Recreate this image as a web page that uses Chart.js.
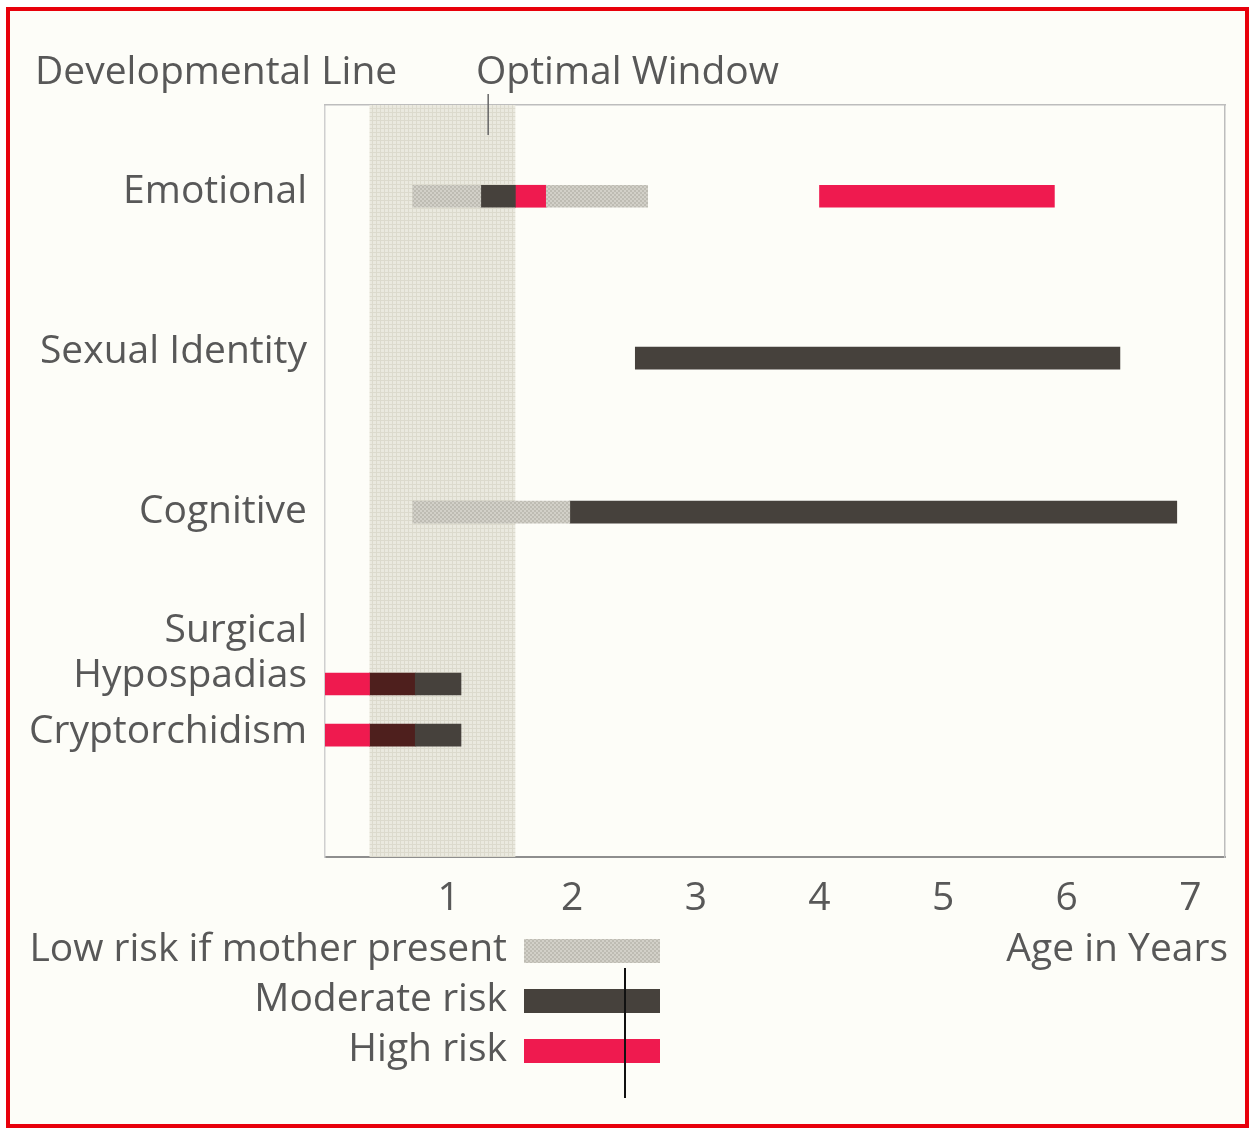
<!DOCTYPE html>
<html>
<head>
<meta charset="utf-8">
<script src="https://cdn.jsdelivr.net/npm/chart.js@4.4.1/dist/chart.umd.min.js"></script>
<style>
  html, body { margin: 0; padding: 0; background: #fff; }
  #wrap { position: relative; width: 1250px; height: 1129px; }
  #frame { position: absolute; left: 6px; top: 7px; width: 1235px; height: 1113px;
           border: 4px solid #e8000b; background: #fdfdf8; }
  #chart { position: absolute; left: 0; top: 0; }
</style>
</head>
<body>
<div id="wrap">
  <div id="frame"></div>
  <canvas id="chart" width="1250" height="1129"></canvas>
</div>
<script>
// rows of the chart and where they sit on the vertical scale (0..15, top to bottom)
const rowNames = ["Emotional", "Sexual Identity", "Cognitive", "Hypospadias", "Cryptorchidism"];
const rowPos = [1.82, 5.05, 8.12, 11.55, 12.57];

// y labels (the "Surgical" heading has no bar of its own)
const labelNames = ["Emotional", "Sexual Identity", "Cognitive", "Surgical", "Hypospadias", "Cryptorchidism"];
const labelPos = [1.74, 4.93, 8.12, 10.49, 11.39, 12.5];

// age ticks
const ageTicks = [1, 2, 3, 4, 5, 6, 7];

// spans: [row index, start age, end age]
const lowRiskSpans = [[0, 0.71, 1.26], [0, 1.79, 2.61], [2, 0.71, 1.98]];
const moderateSpans = [[0, 1.26, 1.54], [1, 2.51, 6.43], [2, 1.98, 6.89], [3, 0.73, 1.10], [4, 0.73, 1.10]];
const highSpans = [[0, 1.54, 1.79], [0, 4.0, 5.90], [3, 0, 0.36], [4, 0, 0.36]];
const highModerateSpans = [[3, 0.36, 0.73], [4, 0.36, 0.73]];

// optimal window (years)
const windowStart = 0.36;
const windowEnd = 1.54;
const windowPointer = 1.32;

const FONT = "'Open Sans', 'DejaVu Sans', sans-serif";
const TEXT = "#585858";

function checkPattern(base, dot) {
  const c = document.createElement("canvas");
  c.width = 4; c.height = 4;
  const g = c.getContext("2d");
  g.fillStyle = base; g.fillRect(0, 0, 4, 4);
  g.fillStyle = dot; g.fillRect(0, 0, 2, 2); g.fillRect(2, 2, 2, 2);
  return g.createPattern(c, "repeat");
}
function gridPattern(base, line) {
  const c = document.createElement("canvas");
  c.width = 4; c.height = 4;
  const g = c.getContext("2d");
  g.fillStyle = base; g.fillRect(0, 0, 4, 4);
  g.fillStyle = line; g.fillRect(0, 0, 1, 4); g.fillRect(0, 0, 4, 1);
  return g.createPattern(c, "repeat");
}

const lowFill = checkPattern("#d2d0c8", "#bebcb3");
const moderateColor = "#46413c";
const highColor = "#ef1a4f";
const highModColor = "#4e1f1d";
const windowFill = gridPattern("#eae9df", "#dcdacd");

const toPoints = spans => spans.map(s => ({ y: rowPos[s[0]], x: [s[1], s[2]] }));

const barDefaults = { grouped: false, barThickness: 22, borderWidth: 0, borderSkipped: false };

const windowPlugin = {
  id: "optimalWindow",
  beforeDatasetsDraw(chart) {
    const { ctx, chartArea, scales } = chart;
    const x0 = scales.x.getPixelForValue(windowStart);
    const x1 = scales.x.getPixelForValue(windowEnd);
    ctx.save();
    ctx.fillStyle = windowFill;
    ctx.fillRect(x0, chartArea.top, x1 - x0, chartArea.bottom - chartArea.top);
    ctx.restore();
  }
};

const textPlugin = {
  id: "extraText",
  afterDraw(chart) {
    const { ctx, chartArea, scales } = chart;
    ctx.save();
    ctx.fillStyle = TEXT;
    ctx.font = "39px " + FONT;
    ctx.textBaseline = "middle";
    ctx.textAlign = "left";
    ctx.fillText("Developmental Line", 35, 73);
    ctx.fillText("Optimal Window", 476, 73);
    ctx.textAlign = "right";
    ctx.fillText("Age in Years", 1228, 950);

    // pointer to the window
    const px = scales.x.getPixelForValue(windowPointer);
    ctx.strokeStyle = "#666";
    ctx.lineWidth = 1.5;
    ctx.beginPath();
    ctx.moveTo(px, 94);
    ctx.lineTo(px, chartArea.top + 30);
    ctx.stroke();

    // legend
    const items = [
      ["Low risk if mother present", lowFill, 950],
      ["Moderate risk", moderateColor, 1000],
      ["High risk", highColor, 1050]
    ];
    items.forEach(([label, fill, y]) => {
      ctx.fillStyle = TEXT;
      ctx.fillText(label, 507, y);
      ctx.fillStyle = fill;
      ctx.fillRect(524, y - 11, 136, 24);
    });
    ctx.strokeStyle = "#111";
    ctx.lineWidth = 2;
    ctx.beginPath();
    ctx.moveTo(625, 968);
    ctx.lineTo(625, 1098);
    ctx.stroke();
    ctx.restore();
  }
};

new Chart(document.getElementById("chart"), {
  type: "bar",
  data: {
    datasets: [
      { label: "Low risk if mother present", data: toPoints(lowRiskSpans), backgroundColor: lowFill, ...barDefaults },
      { label: "Moderate risk", data: toPoints(moderateSpans), backgroundColor: moderateColor, ...barDefaults },
      { label: "High risk", data: toPoints(highSpans), backgroundColor: highColor, ...barDefaults },
      { label: "High/moderate", data: toPoints(highModerateSpans), backgroundColor: highModColor, ...barDefaults }
    ]
  },
  options: {
    responsive: false,
    animation: false,
    indexAxis: "y",
    layout: { padding: { left: 0, right: 25, top: 105, bottom: 0 } },
    plugins: { legend: { display: false }, tooltip: { enabled: false } },
    scales: {
      x: {
        type: "linear",
        min: 0,
        max: 7.28,
        afterBuildTicks: s => { s.ticks = ageTicks.map(v => ({ value: v })); },
        ticks: { color: TEXT, font: { family: FONT, size: 39 }, padding: 18, autoSkip: false, maxRotation: 0 },
        grid: { display: false, drawTicks: false },
        border: { display: true, color: "#8e8e8e", width: 2 },
        afterFit: s => { s.height = 272; }
      },
      y: {
        type: "linear",
        min: 0,
        max: 15,
        reverse: true,
        offset: false,
        afterBuildTicks: s => { s.ticks = labelPos.map(v => ({ value: v })); },
        ticks: {
          color: TEXT, font: { family: FONT, size: 39 }, padding: 18, autoSkip: false,
          callback: (v, i) => labelNames[i]
        },
        grid: { display: false, drawTicks: false },
        border: { display: true, color: "#cfcfcf", width: 1.5, dash: [2, 2] },
        afterFit: s => { s.width = 325; }
      },
      x2: {
        type: "linear", position: "top", min: 0, max: 1,
        ticks: { display: false }, grid: { display: false, drawTicks: false },
        border: { display: true, color: "#bdbdbd", width: 1.5, dash: [2, 2] },
        afterFit: s => { s.height = 0; }
      },
      y2: {
        type: "linear", position: "right", min: 0, max: 1,
        ticks: { display: false }, grid: { display: false, drawTicks: false },
        border: { display: true, color: "#bdbdbd", width: 1.5, dash: [2, 2] },
        afterFit: s => { s.width = 0; }
      }
    }
  },
  plugins: [windowPlugin, textPlugin]
});
</script>
</body>
</html>
